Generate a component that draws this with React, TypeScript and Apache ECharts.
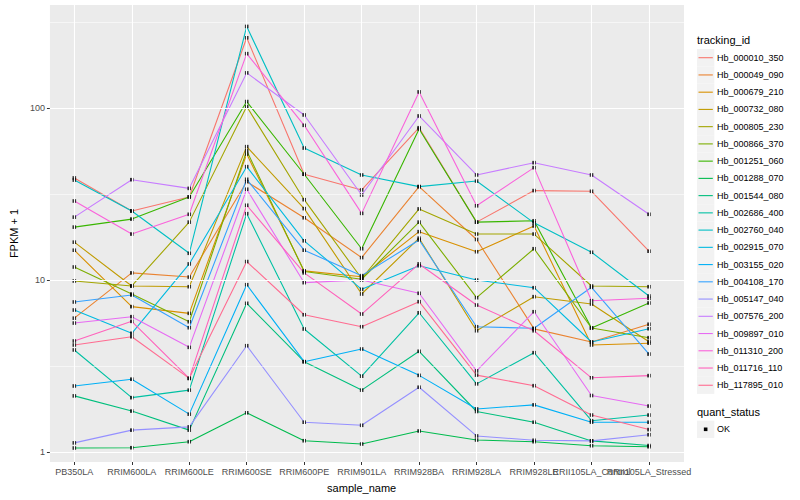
import React, { useEffect, useRef } from "react";
import * as echarts from "echarts";

const samples = [
  "PB350LA", "RRIM600LA", "RRIM600LE", "RRIM600SE", "RRIM600PE", "RRIM901LA",
  "RRIM928BA", "RRIM928LA", "RRIM928LE", "RRII105LA_Control", "RRII105LA_Stressed",
];

const trackingIds = [
  "Hb_000010_350", "Hb_000049_090", "Hb_000679_210", "Hb_000732_080", "Hb_000805_230",
  "Hb_000866_370", "Hb_001251_060", "Hb_001288_070", "Hb_001544_080", "Hb_002686_400",
  "Hb_002760_040", "Hb_002915_070", "Hb_003155_020", "Hb_004108_170", "Hb_005147_040",
  "Hb_007576_200", "Hb_009897_010", "Hb_011310_200", "Hb_011716_110", "Hb_117895_010",
];

// FPKM + 1 per sample (order of `samples`)
const hb_000010_350 = [39.2, 25.2, 30.4, 256, 41.2, 33.4, 76.8, 21.7, 33.1, 32.8, 14.7];
const hb_000049_090 = [6.0, 11.0, 10.4, 37.3, 23.0, 13.5, 34.9, 17.2, 5.2, 4.36, 5.53];
const hb_000679_210 = [14.9, 7.0, 6.4, 54.0, 11.3, 10.45, 19.1, 14.6, 20.6, 4.19, 4.29];
const hb_000732_080 = [16.6, 9.23, 9.14, 59.6, 26.0, 8.29, 17.5, 5.07, 8.0, 7.25, 4.38];
const hb_000805_230 = [9.87, 9.23, 21.7, 102, 29.3, 10.2, 25.9, 18.5, 18.5, 9.23, 9.14];
const hb_000866_370 = [11.9, 8.29, 5.72, 56.5, 11.2, 10.1, 21.7, 7.89, 15.2, 5.26, 4.62];
const hb_001251_060 = [20.3, 22.6, 30.4, 109, 41.2, 15.2, 75.5, 21.7, 22.1, 5.26, 7.35];
const hb_001288_070 = [1.055, 1.059, 1.148, 1.69, 1.163, 1.113, 1.325, 1.174, 1.148, 1.088, 1.073];
const hb_001544_080 = [2.12, 1.73, 1.34, 7.32, 3.35, 2.29, 3.85, 1.72, 1.49, 1.16, 1.09];
const hb_002686_400 = [3.92, 2.07, 2.29, 24.3, 5.19, 2.76, 6.45, 2.49, 3.78, 1.52, 1.64];
const hb_002760_040 = [38.1, 25.2, 14.3, 298, 58.5, 40.8, 34.9, 37.6, 21.5, 14.5, 8.07];
const hb_002915_070 = [6.69, 4.9, 12.4, 45.6, 16.9, 8.83, 12.1, 10.0, 9.02, 4.36, 5.21];
const hb_003155_020 = [2.42, 2.65, 1.66, 9.39, 3.35, 3.97, 2.79, 1.78, 1.88, 1.49, 1.49];
const hb_004108_170 = [7.45, 8.18, 5.28, 38.5, 14.9, 10.6, 17.1, 5.35, 5.24, 9.07, 3.71];
const hb_005147_040 = [1.13, 1.34, 1.4, 4.15, 1.49, 1.43, 2.38, 1.24, 1.17, 1.16, 1.26];
const hb_007576_200 = [23.2, 38.3, 34.1, 160, 91.1, 31.2, 89.9, 40.8, 48.1, 40.8, 24.1];
const hb_009897_010 = [5.62, 6.12, 4.06, 33.7, 9.65, 10.0, 8.37, 2.96, 6.54, 2.13, 1.85];
const hb_011310_200 = [28.8, 18.5, 24.1, 207, 79.3, 24.4, 124, 27.0, 45.0, 7.58, 7.83];
const hb_011716_110 = [4.42, 5.75, 2.68, 27.2, 11.0, 6.34, 12.4, 7.15, 5.07, 2.7, 2.78];
const hb_117895_010 = [4.19, 4.68, 2.68, 12.8, 6.28, 5.35, 7.48, 2.8, 2.43, 1.64, 1.35];

const seriesValues = [
  hb_000010_350, hb_000049_090, hb_000679_210, hb_000732_080, hb_000805_230,
  hb_000866_370, hb_001251_060, hb_001288_070, hb_001544_080, hb_002686_400,
  hb_002760_040, hb_002915_070, hb_003155_020, hb_004108_170, hb_005147_040,
  hb_007576_200, hb_009897_010, hb_011310_200, hb_011716_110, hb_117895_010,
];

// y tick labels (values) and minor grid positions, as decimal exponents
const yTickLabels = ["1", "10", "100"];
const yMajorExp = [0, 1, 2];
const yMinorExp = [0.5, 1.5, 2.5];

const palette = [
  "#F8766D", "#EA8331", "#D89000", "#C09B00", "#A3A500",
  "#7CAE00", "#39B600", "#00BB4E", "#00BF7D", "#00C1A3",
  "#00BFC4", "#00BAE0", "#00B0F6", "#35A2FF", "#9590FF",
  "#C77CFF", "#E76BF3", "#FA62DB", "#FF62BC", "#FF6C91",
];

const FONT = "'Liberation Sans', Arial, Helvetica, sans-serif";
const Y_MIN = 0.8748;
const Y_MAX = 397;

export default function App() {
  const ref = useRef<HTMLDivElement>(null);

  useEffect(() => {
    if (!ref.current) return;
    const chart = echarts.init(ref.current, null, { renderer: "svg" });

    const lineSeries = seriesValues.map((vals, si) => ({
      name: trackingIds[si],
      type: "line",
      xAxisIndex: 1,
      yAxisIndex: 1,
      data: vals.map((v, i) => [i, v]),
      showSymbol: false,
      symbol: "none",
      silent: true,
      z: 3,
      lineStyle: { color: palette[si], width: 1.1 },
      itemStyle: { color: palette[si] },
    }));

    const points: number[][] = [];
    seriesValues.forEach((vals) => vals.forEach((v, i) => points.push([i, v])));

    // Legend drawn with graphic elements (ggplot style keys)
    const keyX = 697;
    const keyW = 17.3;
    const firstY = 57.7;
    const step = 17.24;
    const legendEls: any[] = [
      {
        type: "text",
        x: keyX,
        y: 40,
        style: { text: "tracking_id", fill: "#000", font: `11px ${FONT}`, verticalAlign: "middle" },
      },
    ];
    trackingIds.forEach((id, i) => {
      const cy = firstY + i * step;
      legendEls.push({
        type: "rect",
        shape: { x: keyX, y: cy - keyW / 2, width: keyW, height: keyW },
        style: { fill: "#F2F2F2" },
      });
      legendEls.push({
        type: "line",
        shape: { x1: keyX + 1.5, y1: cy, x2: keyX + keyW - 1.5, y2: cy },
        style: { stroke: palette[i], lineWidth: 1.1 },
      });
      legendEls.push({
        type: "text",
        x: 717,
        y: cy,
        style: { text: id, fill: "#000", font: `9px ${FONT}`, verticalAlign: "middle" },
      });
    });
    const qy = 429.3;
    legendEls.push(
      {
        type: "text",
        x: keyX,
        y: 412,
        style: { text: "quant_status", fill: "#000", font: `11px ${FONT}`, verticalAlign: "middle" },
      },
      {
        type: "rect",
        shape: { x: keyX, y: qy - keyW / 2, width: keyW, height: keyW },
        style: { fill: "#F2F2F2" },
      },
      {
        type: "rect",
        shape: { x: keyX + keyW / 2 - 1.8, y: qy - 1.8, width: 3.6, height: 3.6 },
        style: { fill: "#000" },
      },
      {
        type: "text",
        x: 717,
        y: qy,
        style: { text: "OK", fill: "#000", font: `9px ${FONT}`, verticalAlign: "middle" },
      }
    );

    const xMax = samples.length - 1;

    const option: any = {
      animation: false,
      backgroundColor: "#FFFFFF",
      textStyle: { fontFamily: FONT },
      grid: [
        { left: 40, right: 116, top: 5, bottom: 38, show: true, backgroundColor: "#EBEBEB", borderWidth: 0 },
        { left: 74.3, right: 151, top: 5, bottom: 38 },
      ],
      xAxis: [
        { gridIndex: 0, type: "value", min: 0, max: 1, show: false },
        {
          gridIndex: 1,
          type: "value",
          min: 0,
          // a hair beyond the last category so that no label is treated as the axis max label
          max: xMax + 0.0001,
          interval: 1,
          axisLine: { show: false },
          axisTick: { show: true, length: 3, lineStyle: { color: "#333333", width: 1 } },
          axisLabel: {
            color: "#4D4D4D",
            fontSize: 9,
            fontFamily: FONT,
            margin: 5,
            hideOverlap: false,
            formatter: (v: number) =>
              Math.abs(v - Math.round(v)) < 1e-6 ? samples[Math.round(v)] ?? "" : "",
          },
          splitLine: { show: false },
          name: "sample_name",
          nameLocation: "middle",
          nameGap: 20,
          nameTextStyle: { color: "#000", fontSize: 11, fontFamily: FONT },
        },
      ],
      yAxis: [
        {
          // panel axis in log10 space: ticks, labels and grid lines
          gridIndex: 0,
          type: "value",
          min: Math.log10(Y_MIN),
          max: Math.log10(Y_MAX),
          axisLine: { show: false },
          axisTick: { show: true, length: 3, lineStyle: { color: "#333333" }, customValues: yMajorExp },
          axisLabel: {
            color: "#4D4D4D",
            fontSize: 9,
            fontFamily: FONT,
            margin: 5,
            customValues: yMajorExp,
            formatter: (v: number) => yTickLabels[yMajorExp.indexOf(Math.round(v))] ?? "",
          },
          splitLine: { show: false },
          name: "FPKM + 1",
          nameLocation: "middle",
          nameRotate: 90,
          nameGap: 26,
          nameTextStyle: { color: "#000", fontSize: 11, fontFamily: FONT },
        },
        { gridIndex: 1, type: "log", logBase: 10, min: Y_MIN, max: Y_MAX, show: false },
      ],
      series: [
        {
          type: "scatter",
          xAxisIndex: 0,
          yAxisIndex: 0,
          data: [[0.5, 1]],
          symbolSize: 0,
          silent: true,
          z: 1,
          markLine: {
            silent: true,
            symbol: ["none", "none"],
            label: { show: false },
            lineStyle: { color: "#FFFFFF", type: "solid", width: 1.1 },
            data: [
              ...yMinorExp.map((v) => ({ yAxis: v, lineStyle: { color: "#FFFFFF", type: "solid", width: 0.55 } })),
              ...yMajorExp.map((v) => ({ yAxis: v })),
            ],
          },
        },
        {
          type: "scatter",
          xAxisIndex: 1,
          yAxisIndex: 1,
          data: [[0, 1]],
          symbolSize: 0,
          silent: true,
          z: 1,
          markLine: {
            silent: true,
            symbol: ["none", "none"],
            label: { show: false },
            lineStyle: { color: "#FFFFFF", type: "solid", width: 1.1 },
            data: samples.map((_, i) => ({ xAxis: i })),
          },
        },
        ...lineSeries,
        {
          type: "scatter",
          name: "OK",
          xAxisIndex: 1,
          yAxisIndex: 1,
          data: points,
          symbol: "rect",
          symbolSize: 3.6,
          silent: true,
          z: 4,
          itemStyle: { color: "#000000" },
        },
      ],
      graphic: legendEls,
    };

    chart.setOption(option);
    return () => chart.dispose();
  }, []);

  return (
    <div
      ref={ref}
      style={{ position: "fixed", left: 0, top: 0, width: 800, height: 500, background: "#fff" }}
    />
  );
}
